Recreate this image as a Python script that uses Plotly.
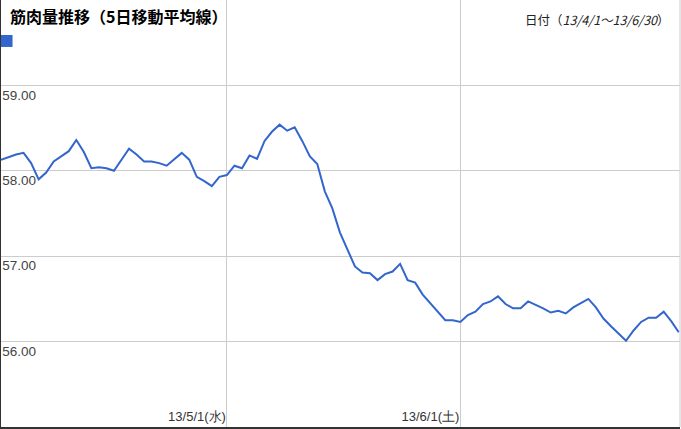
import pandas as pd
import plotly.graph_objects as go

# 5-day moving average of muscle mass, 2013/4/1 - 2013/6/30
dates = pd.date_range("2013-04-01", "2013-06-30", freq="D")
muscle = [
    58.13, 58.16, 58.19, 58.21, 58.09, 57.90, 57.98, 58.11, 58.17, 58.23,
    58.36, 58.22, 58.03, 58.04, 58.03, 58.00, 58.13, 58.26, 58.19, 58.11,
    58.11, 58.09, 58.06, 58.14, 58.21, 58.13, 57.93, 57.88, 57.82, 57.93,
    57.95, 58.06, 58.03, 58.18, 58.14, 58.35, 58.46, 58.54, 58.47, 58.51,
    58.35, 58.17, 58.08, 57.76, 57.56, 57.28, 57.07, 56.88, 56.81, 56.80,
    56.72, 56.79, 56.82, 56.91, 56.72, 56.69, 56.55, 56.45, 56.35, 56.25,
    56.25, 56.23, 56.31, 56.35, 56.44, 56.47, 56.53, 56.44, 56.39, 56.39,
    56.47, 56.43, 56.39, 56.34, 56.36, 56.33, 56.40, 56.45, 56.50, 56.40,
    56.27, 56.18, 56.10, 56.01, 56.13, 56.23, 56.28, 56.28, 56.35, 56.24,
    56.11,
]

y_ticks = [55, 56, 57, 58, 59, 60]
y_labels = ["", "56.00", "57.00", "58.00", "59.00", ""]
x_ticks = ["2013-05-01", "2013-06-01"]
x_labels = ["13/5/1(水)", "13/6/1(土)"]

title = "筋肉量推移（5日移動平均線）"
range_note = "日付（<i>13/4/1～13/6/30</i>）"

LINE = "#3366CC"
GRID = "#cccccc"

fig = go.Figure()
fig.add_trace(go.Scatter(
    x=dates, y=muscle, mode="lines",
    line=dict(color=LINE, width=2),
    hoverinfo="x+y", showlegend=False
))

fig.update_layout(
    width=681, height=429,
    margin=dict(l=1, r=1, t=0, b=2, pad=0),
    paper_bgcolor="white", plot_bgcolor="white",
    font=dict(family="Liberation Sans, Arial, sans-serif", size=13, color="#444444"),
    xaxis=dict(
        range=["2013-04-01", "2013-06-30 04:00"],
        tickvals=x_ticks, ticktext=x_labels,
        ticklabelposition="inside left", ticks="",
        showgrid=True, gridcolor=GRID, gridwidth=1,
        showline=True, linecolor="#333333", linewidth=2,
        zeroline=False, fixedrange=True,
        tickfont=dict(size=13, color="#333333"),
    ),
    yaxis=dict(
        range=[55, 60],
        tickvals=y_ticks, ticktext=y_labels,
        ticklabelposition="inside bottom", ticks="",
        showgrid=True, gridcolor=GRID, gridwidth=1,
        showline=True, linecolor="#333333", linewidth=2,
        zeroline=False, fixedrange=True,
        tickfont=dict(size=13.5, color="#444444"),
    ),
    shapes=[
        dict(type="line", xref="paper", yref="paper", x0=1, x1=1, y0=0, y1=1,
             line=dict(color=GRID, width=1)),
        dict(type="rect", xref="paper", yref="paper",
             x0=0.0, x1=0.017, y0=0.89, y1=0.918,
             fillcolor=LINE, line=dict(width=0)),
    ],
    annotations=[
        dict(text="<b>" + title + "</b>", xref="paper", yref="paper",
             x=0.01, y=0.962, xanchor="left", yanchor="middle", showarrow=False,
             font=dict(family="Noto Sans CJK JP", size=16, color="#000000")),
        dict(text=range_note, xref="paper", yref="paper",
             x=0.988, y=0.955, xanchor="right", yanchor="middle", showarrow=False,
             font=dict(family="Noto Sans CJK JP, Liberation Sans", size=12.5, color="#222222")),
    ],
)

# drop the page's default body margin so the chart sits at the window corner
fig.write_html("out.html", config={"displayModeBar": False},
               post_script="document.body.style.margin='0';")
